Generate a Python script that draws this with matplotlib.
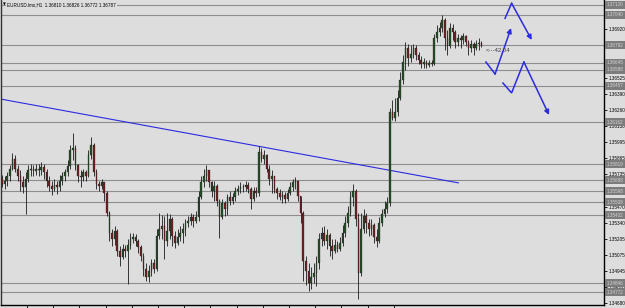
import matplotlib
matplotlib.use("Agg")
import matplotlib.pyplot as plt
import matplotlib.transforms as mtransforms
import numpy as np

# ---------------- data ----------------
chart_title = "EURUSD.lmx,H1  1.36810 1.36826 1.36772 1.36787"
first_open = 1.35700

close = [1.35659, 1.35684, 1.35717, 1.35782, 1.35864, 1.35782, 1.35725, 1.35668, 1.35635, 1.35700,
         1.35766, 1.35782, 1.35758, 1.35782, 1.35766, 1.35791, 1.35750, 1.35684, 1.35643, 1.35618,
         1.35651, 1.35635, 1.35684, 1.35717, 1.35750, 1.35799, 1.35930, 1.35946, 1.35807, 1.35725,
         1.35709, 1.35750, 1.35725, 1.35889, 1.35971, 1.35750, 1.35659, 1.35643, 1.35668, 1.35586,
         1.35422, 1.35258, 1.35208, 1.35274, 1.35110, 1.35061, 1.35126, 1.35110, 1.35159, 1.35208,
         1.35225, 1.35192, 1.35143, 1.35069, 1.34962, 1.34897, 1.34946, 1.35012, 1.34962, 1.35233,
         1.35290, 1.35315, 1.35192, 1.35274, 1.35372, 1.35233, 1.35176, 1.35225, 1.35258, 1.35290,
         1.35340, 1.35356, 1.35389, 1.35356, 1.35389, 1.35553, 1.35668, 1.35725, 1.35766, 1.35668,
         1.35602, 1.35643, 1.35520, 1.35389, 1.35504, 1.35454, 1.35553, 1.35520, 1.35553, 1.35602,
         1.35618, 1.35635, 1.35627, 1.35651, 1.35618, 1.35536, 1.35602, 1.35586, 1.35914, 1.35864,
         1.35889, 1.35782, 1.35700, 1.35717, 1.35618, 1.35586, 1.35553, 1.35569, 1.35536, 1.35586,
         1.35635, 1.35668, 1.35684, 1.35561, 1.35422, 1.35028, 1.34946, 1.34848, 1.34897, 1.34930,
         1.35012, 1.35208, 1.35258, 1.35192, 1.35241, 1.35151, 1.35110, 1.35159, 1.35126, 1.35176,
         1.35258, 1.35340, 1.35422, 1.35553, 1.35602, 1.35372, 1.34930, 1.35290, 1.35397, 1.35340,
         1.35290, 1.35323, 1.35225, 1.35192, 1.35340, 1.35413, 1.35454, 1.35504, 1.36242, 1.36192,
         1.36242, 1.36356, 1.36504, 1.36652, 1.36766, 1.36684, 1.36717, 1.36766, 1.36709, 1.36668,
         1.36635, 1.36652, 1.36627, 1.36643, 1.36635, 1.36848, 1.36898, 1.36930, 1.36996, 1.36848,
         1.36783, 1.36930, 1.36898, 1.36816, 1.36848, 1.36832, 1.36865, 1.36816, 1.36766, 1.36799,
         1.36766, 1.36799, 1.36810, 1.36787]

high = [1.35733, 1.35717, 1.35750, 1.35807, 1.35905, 1.35889, 1.35807, 1.35766, 1.35717, 1.35750,
        1.35807, 1.35815, 1.35807, 1.35815, 1.35815, 1.35832, 1.35815, 1.35782, 1.35717, 1.35684,
        1.35700, 1.35684, 1.35733, 1.35750, 1.35782, 1.35848, 1.35971, 1.36069, 1.35971, 1.35823,
        1.35766, 1.35782, 1.35766, 1.35930, 1.36037, 1.35987, 1.35782, 1.35684, 1.35700, 1.35668,
        1.35602, 1.35438, 1.35290, 1.35315, 1.35290, 1.35151, 1.35167, 1.35159, 1.35208, 1.35258,
        1.35258, 1.35249, 1.35208, 1.35159, 1.35094, 1.35012, 1.34995, 1.35044, 1.35044, 1.35290,
        1.35422, 1.35405, 1.35397, 1.35422, 1.35413, 1.35389, 1.35274, 1.35290, 1.35315, 1.35340,
        1.35372, 1.35397, 1.35422, 1.35413, 1.35438, 1.35602, 1.35717, 1.35782, 1.35807, 1.35766,
        1.35684, 1.35684, 1.35659, 1.35536, 1.35536, 1.35520, 1.35577, 1.35602, 1.35586, 1.35635,
        1.35651, 1.35668, 1.35659, 1.35684, 1.35668, 1.35635, 1.35635, 1.35635, 1.35963, 1.35946,
        1.35930, 1.35897, 1.35807, 1.35766, 1.35725, 1.35635, 1.35618, 1.35602, 1.35594, 1.35618,
        1.35668, 1.35700, 1.35709, 1.35684, 1.35561, 1.35438, 1.35069, 1.35012, 1.34979, 1.35012,
        1.35069, 1.35258, 1.35307, 1.35315, 1.35290, 1.35258, 1.35208, 1.35208, 1.35192, 1.35225,
        1.35323, 1.35397, 1.35479, 1.35602, 1.35659, 1.35618, 1.35422, 1.35422, 1.35454, 1.35422,
        1.35372, 1.35372, 1.35340, 1.35290, 1.35389, 1.35454, 1.35520, 1.35553, 1.36274, 1.36340,
        1.36356, 1.36422, 1.36570, 1.36709, 1.36816, 1.36799, 1.36791, 1.36799, 1.36791, 1.36734,
        1.36701, 1.36684, 1.36668, 1.36668, 1.36668, 1.36881, 1.36955, 1.36980, 1.37037, 1.37012,
        1.36914, 1.36971, 1.36963, 1.36914, 1.36881, 1.36873, 1.36889, 1.36873, 1.36832, 1.36832,
        1.36816, 1.36832, 1.36848, 1.36826]

low = [1.35635, 1.35618, 1.35643, 1.35684, 1.35766, 1.35750, 1.35684, 1.35602, 1.35586, 1.35413,
       1.35668, 1.35717, 1.35725, 1.35733, 1.35725, 1.35733, 1.35700, 1.35635, 1.35602, 1.35569,
       1.35602, 1.35577, 1.35602, 1.35651, 1.35684, 1.35717, 1.35782, 1.35848, 1.35766, 1.35668,
       1.35635, 1.35684, 1.35684, 1.35709, 1.35864, 1.35717, 1.35618, 1.35602, 1.35618, 1.35520,
       1.35397, 1.35192, 1.35151, 1.35159, 1.35069, 1.34987, 1.35044, 1.35061, 1.34839, 1.35126,
       1.35176, 1.35151, 1.35094, 1.35028, 1.34905, 1.34864, 1.34856, 1.34905, 1.34930, 1.34946,
       1.35208, 1.35208, 1.35044, 1.35151, 1.35208, 1.35151, 1.35135, 1.35159, 1.35192, 1.35176,
       1.35233, 1.35307, 1.35323, 1.35307, 1.35340, 1.35356, 1.35536, 1.35635, 1.35684, 1.35635,
       1.35553, 1.35520, 1.35479, 1.35217, 1.35372, 1.35397, 1.35405, 1.35487, 1.35495, 1.35520,
       1.35569, 1.35586, 1.35594, 1.35602, 1.35586, 1.35454, 1.35520, 1.35553, 1.35561, 1.35832,
       1.35815, 1.35750, 1.35651, 1.35586, 1.35586, 1.35536, 1.35528, 1.35504, 1.35504, 1.35520,
       1.35569, 1.35602, 1.35618, 1.35520, 1.35340, 1.34864, 1.34831, 1.34782, 1.34798, 1.34848,
       1.34823, 1.34962, 1.35151, 1.35159, 1.35126, 1.35069, 1.35044, 1.35094, 1.35102, 1.35110,
       1.35151, 1.35225, 1.35307, 1.35397, 1.35479, 1.35315, 1.34716, 1.34905, 1.35258, 1.35258,
       1.35233, 1.35241, 1.35176, 1.35143, 1.35176, 1.35315, 1.35389, 1.35422, 1.35479, 1.36176,
       1.36168, 1.36209, 1.36340, 1.36471, 1.36586, 1.36619, 1.36652, 1.36684, 1.36668, 1.36635,
       1.36602, 1.36602, 1.36602, 1.36611, 1.36619, 1.36627, 1.36816, 1.36865, 1.36898, 1.36750,
       1.36709, 1.36766, 1.36832, 1.36766, 1.36783, 1.36766, 1.36799, 1.36783, 1.36709, 1.36734,
       1.36709, 1.36750, 1.36750, 1.36772]

# horizontal price levels (with their boxed labels on the price scale)
level_prices = [1.37120, 1.37040, 1.36792, 1.36645, 1.36588, 1.36457, 1.36162,
                1.35819, 1.35688, 1.35598, 1.35508, 1.35402, 1.34846, 1.34772]
level_labels = ["1.37120", "1.37040", "1.36792", "1.36645", "1.36588", "1.36457", "1.36162",
                "1.35819", "1.35688", "1.35598", "1.35508", "1.35402", "1.34846", "1.34772"]

# price-scale tick labels
tick_prices = [1.36920, 1.36525, 1.36390, 1.36260, 1.36130, 1.35995, 1.35865,
               1.35735, 1.35470, 1.35340, 1.35205, 1.35075, 1.34945, 1.34810, 1.34680]
tick_labels = ["1.36920", "1.36525", "1.36390", "1.36260", "1.36130", "1.35995", "1.35865",
               "1.35735", "1.35470", "1.35340", "1.35205", "1.35075", "1.34945", "1.34810", "1.34680"]

# trend line (bar index, price)
trend_bars = [-0.76, 174.4]
trend_prices = [1.36351, 1.35664]

# hand-drawn projection arrows (bar index, price)
arrow1_bars = [192.0, 194.5, 202.2]
arrow1_prices = [1.37010, 1.37133, 1.36833]
arrow2_bars = [184.7, 188.2, 194.3]
arrow2_prices = [1.36653, 1.36555, 1.36931]
arrow3_bars = [191.2, 194.5, 199.2, 208.8]
arrow3_prices = [1.36481, 1.36400, 1.36653, 1.36220]

note_text = "<---42.04"
note_bar = 184.7
note_price = 1.36751

# ---------------- drawing ----------------
BG = "#dddddd"
BLUE = "#2b2be0"
W, H = 625, 308

close_a = np.array(close)
high_a = np.array(high)
low_a = np.array(low)
open_a = np.concatenate([[first_open], close_a[:-1]])
x = np.arange(len(close_a))

fig = plt.figure(figsize=(W / 100, H / 100), dpi=100, facecolor=BG)
ax = fig.add_axes([1 / W, 3 / H, 603 / W, 305 / H], facecolor=BG)

bar_px = 2.62
x0 = -(1.0 / bar_px)
ax.set_xlim(x0, x0 + 603 / bar_px)
ax.set_ylim(1.3716 - 305 / 12230, 1.3716)

for lv in level_prices:
    ax.axhline(lv, color="#8e8e8e", lw=0.8, zorder=1)

ax.plot(trend_bars, trend_prices, color=BLUE, lw=0.8, zorder=2, solid_capstyle="butt")

ax.vlines(x, low_a, high_a, color="#1a1a1a", lw=0.6, zorder=3)
body = close_a - open_a
body = np.where(np.abs(body) < 1e-5, -1e-5, body)
bull = close_a >= open_a
ax.bar(x[bull], body[bull], bottom=open_a[bull], width=0.62,
       color="#244f24", edgecolor="#1a1a1a", linewidth=0.2, zorder=4)
ax.bar(x[~bull], body[~bull], bottom=open_a[~bull], width=0.62,
       color="#6e2222", edgecolor="#1a1a1a", linewidth=0.2, zorder=4)

for bx, py in [(arrow1_bars, arrow1_prices), (arrow2_bars, arrow2_prices),
               (arrow3_bars, arrow3_prices)]:
    ax.plot(bx[:-1], py[:-1], color=BLUE, lw=1.1, zorder=5, solid_joinstyle="miter")
    ax.annotate("", xy=(bx[-1], py[-1]), xytext=(bx[-2], py[-2]),
                arrowprops=dict(arrowstyle="-|>", color=BLUE, lw=1.1,
                                mutation_scale=7, shrinkA=0, shrinkB=0), zorder=5)

ax.text(note_bar, note_price, note_text, fontsize=4.3, color="#404040",
        family="Liberation Sans", va="center", ha="left", zorder=6)

# spines
ax.spines["top"].set_visible(False)
ax.spines["left"].set_color("#333333")
ax.spines["left"].set_linewidth(1.0)
ax.spines["right"].set_color("#000000")
ax.spines["right"].set_linewidth(1.0)
ax.spines["bottom"].set_color("#000000")
ax.spines["bottom"].set_linewidth(1.0)

# price scale
ax.yaxis.tick_right()
ax.set_yticks(tick_prices)
ax.set_yticklabels(tick_labels)
ax.tick_params(axis="y", length=2, width=0.6, pad=1.2, labelsize=3.3,
               colors="black", direction="out")
for lab in ax.get_yticklabels():
    lab.set_family("Liberation Sans")

# time scale tick marks (no labels visible)
ax.set_xticks(np.arange(15) * 10 + (27 - 2) / bar_px)
ax.tick_params(axis="x", length=3, width=0.6, direction="out",
               labelbottom=False, colors="black")

# boxed level labels on the price scale
trans = mtransforms.blended_transform_factory(ax.transAxes, ax.transData)
for lv, lab in zip(level_prices, level_labels):
    ax.text(1.0 + 2.5 / 603, lv, lab, transform=trans, fontsize=3.3, color="#d4d4d4",
            family="Liberation Sans", va="center", ha="left", clip_on=False, zorder=7,
            bbox=dict(boxstyle="square,pad=0.3", fc="#7c7c7c", ec="none"))

# title
fig.text(2.5 / W, 1 - 4.5 / H, "\u25bc", fontsize=2.6, color="black", va="center", ha="left")
fig.text(7 / W, 1 - 4.5 / H, chart_title, fontsize=3.3, color="black", va="center", ha="left",
         family="Liberation Sans", zorder=10,
         bbox=dict(boxstyle="square,pad=0.2", fc=BG, ec="none"))

fig.savefig("out.png", dpi=100, facecolor=BG)
